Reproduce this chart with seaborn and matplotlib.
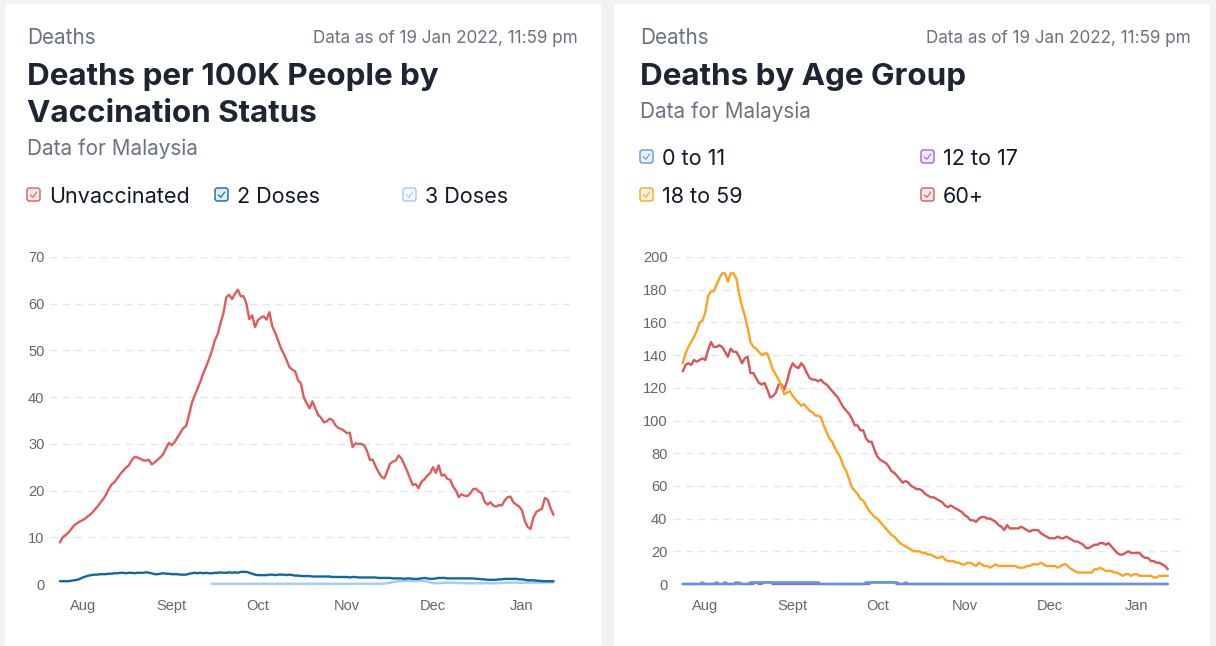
import numpy as np
import pandas as pd
import matplotlib.pyplot as plt
import seaborn as sns
from matplotlib.patches import Rectangle, FancyBboxPatch
from matplotlib.colors import to_rgba

sns.set_style("white")
plt.rcParams["font.family"] = ["Inter", "DejaVu Sans"]

W, H = 1216, 646

# ---- data (daily values, 24 Jul 2021 .. 12 Jan 2022) ----
START = "2021-07-24"
START_3DOSE = "2021-09-15"
MONTH_TICKS = ["2021-08-01", "2021-09-01", "2021-10-01", "2021-11-01", "2021-12-01", "2022-01-01"]
MONTH_LABELS = ["Aug", "Sept", "Oct", "Nov", "Dec", "Jan"]

# deaths per 100K by vaccination status
UNVACC = [
    8.9, 10.0, 10.5, 11.0, 11.8, 12.6, 13.0, 13.4, 13.7, 14.1,
    14.6, 15.1, 15.8, 16.5, 17.3, 18.1, 19.0, 20.3, 21.3, 21.8,
    22.6, 23.5, 24.2, 24.9, 25.4, 26.5, 27.2, 27.1, 26.8, 26.5,
    26.4, 26.6, 25.6, 26.0, 26.6, 27.1, 27.8, 29.1, 30.2, 29.7,
    30.4, 31.4, 32.4, 33.4, 33.8, 36.2, 38.8, 40.4, 41.9, 43.4,
    45.2, 46.6, 48.2, 50.0, 52.2, 53.5, 55.9, 58.0, 61.4, 61.9,
    61.0, 62.1, 63.0, 61.6, 61.6, 60.0, 56.7, 57.5, 55.0, 56.5,
    57.0, 57.3, 56.6, 58.2, 55.2, 53.8, 52.2, 50.5, 49.3, 47.9,
    46.4, 45.9, 45.5, 43.6, 42.9, 39.9, 38.7, 37.6, 39.1, 37.6,
    36.2, 35.6, 34.6, 34.8, 35.4, 35.1, 34.0, 33.4, 33.2, 32.8,
    32.3, 32.4, 29.3, 30.1, 30.0, 30.0, 29.7, 28.5, 26.6, 26.6,
    25.2, 24.0, 23.0, 22.6, 24.0, 25.7, 26.2, 26.4, 27.5, 26.9,
    25.6, 24.2, 22.6, 21.2, 21.4, 20.5, 21.9, 22.4, 23.2, 23.7,
    25.0, 23.8, 25.4, 23.2, 23.4, 22.5, 22.3, 20.9, 20.0, 18.6,
    19.2, 18.9, 18.8, 19.4, 20.3, 20.4, 19.8, 19.4, 17.6, 17.0,
    17.5, 16.8, 16.6, 16.9, 16.8, 17.9, 18.6, 18.7, 17.5, 17.0,
    16.6, 15.8, 13.5, 12.2, 11.8, 14.2, 15.4, 15.8, 16.1, 18.4,
    18.0, 16.2, 14.8,
]
TWO_DOSES = [
    0.6, 0.6, 0.6, 0.6, 0.7, 0.8, 0.9, 1.1, 1.4, 1.6,
    1.8, 1.9, 2.0, 2.0, 2.1, 2.1, 2.1, 2.2, 2.2, 2.3,
    2.3, 2.4, 2.4, 2.3, 2.4, 2.4, 2.3, 2.4, 2.4, 2.4,
    2.5, 2.4, 2.3, 2.1, 2.1, 2.2, 2.3, 2.2, 2.2, 2.1,
    2.1, 2.1, 2.0, 2.0, 2.0, 2.2, 2.3, 2.4, 2.3, 2.4,
    2.3, 2.4, 2.3, 2.3, 2.4, 2.4, 2.5, 2.4, 2.4, 2.5,
    2.4, 2.5, 2.4, 2.6, 2.6, 2.6, 2.4, 2.2, 2.0, 1.9,
    1.9, 1.9, 1.9, 2.0, 2.0, 1.9, 2.0, 2.0, 2.0, 1.9,
    2.0, 1.9, 1.8, 1.8, 1.7, 1.7, 1.7, 1.7, 1.6, 1.6,
    1.6, 1.6, 1.6, 1.6, 1.6, 1.5, 1.5, 1.5, 1.5, 1.5,
    1.5, 1.4, 1.5, 1.5, 1.4, 1.4, 1.4, 1.4, 1.4, 1.4,
    1.4, 1.3, 1.3, 1.3, 1.3, 1.3, 1.2, 1.2, 1.2, 1.2,
    1.1, 1.2, 1.2, 1.1, 1.1, 1.1, 1.2, 1.3, 1.2, 1.1,
    1.1, 1.2, 1.3, 1.3, 1.3, 1.2, 1.2, 1.2, 1.2, 1.2,
    1.2, 1.2, 1.2, 1.2, 1.2, 1.1, 1.1, 1.0, 1.0, 0.9,
    0.9, 0.9, 0.9, 1.0, 1.0, 1.1, 1.1, 1.1, 1.1, 1.1,
    1.0, 1.0, 0.9, 0.8, 0.8, 0.8, 0.7, 0.7, 0.6, 0.6,
    0.6, 0.6, 0.6,
]
THREE_DOSES = [  # starts 15 Sep 2021
    0.05, 0.05, 0.05, 0.05, 0.05, 0.05, 0.05, 0.05, 0.05, 0.05,
    0.05, 0.05, 0.05, 0.05, 0.05, 0.05, 0.05, 0.05, 0.05, 0.05,
    0.05, 0.05, 0.05, 0.05, 0.05, 0.05, 0.05, 0.05, 0.05, 0.05,
    0.05, 0.05, 0.05, 0.05, 0.05, 0.05, 0.05, 0.05, 0.05, 0.05,
    0.05, 0.05, 0.05, 0.05, 0.05, 0.05, 0.05, 0.05, 0.05, 0.05,
    0.05, 0.05, 0.05, 0.05, 0.05, 0.05, 0.05, 0.05, 0.05, 0.05,
    0.1, 0.15, 0.25, 0.4, 0.5, 0.6, 0.6, 0.65, 0.7, 0.7,
    0.65, 0.6, 0.7, 0.7, 0.6, 0.5, 0.35, 0.2, 0.15, 0.15,
    0.2, 0.25, 0.3, 0.3, 0.3, 0.25, 0.2, 0.2, 0.2, 0.15,
    0.15, 0.15, 0.15, 0.15, 0.15, 0.2, 0.2, 0.15, 0.15, 0.15,
    0.2, 0.2, 0.25, 0.3, 0.3, 0.3, 0.3, 0.25, 0.25, 0.3,
    0.3, 0.3, 0.3, 0.3, 0.3, 0.3, 0.35, 0.35, 0.35, 0.35,
]

# deaths by age group
AGE_60_PLUS = [
    130, 134, 135, 134, 137, 136, 137, 138, 137, 143,
    148, 145, 145, 146, 145, 142, 139, 144, 142, 142,
    139, 135, 138, 139, 129, 129, 126, 123, 122, 123,
    119, 114, 115, 117, 122, 122, 119, 124, 131, 135,
    133, 132, 135, 133, 129, 126, 125, 125, 124, 125,
    123, 122, 120, 118, 116, 114, 111, 108, 106, 104,
    101, 97, 97, 94, 94, 89, 87, 87, 82, 78,
    76, 75, 74, 72, 69, 68, 66, 64, 62, 63,
    62, 60, 59, 58, 58, 57, 55, 54, 53, 53,
    52, 51, 50, 48, 47, 48, 47, 46, 45, 44,
    42, 41, 39, 39, 38, 40, 41, 41, 40, 40,
    39, 38, 36, 35, 33, 36, 34, 34, 34, 34,
    35, 34, 33, 32, 33, 33, 33, 31, 30, 29,
    28, 28, 28, 29, 28, 28, 29, 28, 27, 26,
    26, 25, 24, 22, 22, 23, 24, 24, 25, 25,
    24, 25, 23, 21, 19, 18, 18, 19, 20, 19,
    19, 19, 19, 17, 16, 16, 14, 14, 13, 13,
    12, 11, 9,
]
AGE_18_59 = [
    135, 141, 145, 148, 151, 155, 160, 161, 166, 176,
    179, 179, 183, 187, 190, 190, 185, 190, 190, 187,
    177, 170, 164, 157, 148, 145, 144, 142, 140, 141,
    141, 136, 131, 128, 125, 121, 116, 117, 118, 115,
    113, 111, 109, 110, 108, 106, 105, 103, 103, 102,
    97, 93, 89, 87, 83, 80, 77, 72, 69, 64,
    59, 57, 55, 52, 51, 48, 45, 43, 41, 40,
    38, 36, 34, 32, 30, 29, 27, 25, 24, 23,
    22, 21, 20, 20, 20, 19, 19, 18, 18, 17,
    16, 16, 17, 15, 14, 14, 14, 13, 13, 12,
    12, 13, 13, 12, 11, 13, 12, 11, 11, 10,
    11, 12, 11, 11, 11, 11, 11, 11, 11, 10,
    10, 10, 11, 11, 12, 12, 12, 13, 12, 11,
    11, 11, 11, 10, 11, 12, 12, 10, 9, 8,
    7, 7, 7, 7, 7, 7, 9, 9, 10, 9,
    8, 8, 8, 7, 7, 6, 5, 6, 6, 5,
    6, 6, 5, 5, 5, 5, 5, 4, 4, 5,
    5, 5, 5,
]
AGE_12_17 = [
    0, 0, 0, 0, 0, 0, 0, 0, 0, 0,
    0, 0, 0, 0, 0, 1, 0, 0, 0, 1,
    0, 0, 0, 0, 0, 0, 1, 0, 0, 1,
    1, 1, 0, 0, 0, 0, 0, 0, 0, 0,
    0, 0, 0, 0, 0, 0, 0, 0, 0, 0,
    0, 0, 0, 0, 0, 0, 0, 0, 0, 0,
    0, 0, 0, 0, 0, 0, 0, 1, 1, 1,
    1, 1, 1, 1, 1, 1, 0, 0, 0, 0,
    0, 0, 0, 0, 0, 0, 0, 0, 0, 0,
    0, 0, 0, 0, 0, 0, 0, 0, 0, 0,
    0, 0, 0, 0, 0, 0, 0, 0, 0, 0,
    0, 0, 0, 0, 0, 0, 0, 0, 0, 0,
    0, 0, 0, 0, 0, 0, 0, 0, 0, 0,
    0, 0, 0, 0, 0, 0, 0, 0, 0, 0,
    0, 0, 0, 0, 0, 0, 0, 0, 0, 0,
    0, 0, 0, 0, 0, 0, 0, 0, 0, 0,
    0, 0, 0, 0, 0, 0, 0, 0, 0, 0,
    0, 0, 0,
]
AGE_0_11 = [
    0, 0, 0, 0, 0, 0, 0, 1, 0, 0,
    0, 0, 1, 0, 0, 0, 0, 0, 0, 0,
    1, 0, 0, 0, 1, 1, 1, 1, 1, 1,
    1, 1, 1, 1, 1, 1, 1, 1, 1, 1,
    1, 1, 1, 1, 1, 1, 1, 1, 1, 0,
    0, 0, 0, 0, 0, 0, 0, 0, 0, 0,
    0, 0, 0, 0, 0, 1, 1, 1, 1, 1,
    1, 1, 1, 1, 1, 1, 1, 0, 0, 1,
    0, 0, 0, 0, 0, 0, 0, 0, 0, 0,
    0, 0, 0, 0, 0, 0, 0, 0, 0, 0,
    0, 0, 0, 0, 0, 0, 0, 0, 0, 0,
    0, 0, 0, 0, 0, 0, 0, 0, 0, 0,
    0, 0, 0, 0, 0, 0, 0, 0, 0, 0,
    0, 0, 0, 0, 0, 0, 0, 0, 0, 0,
    0, 0, 0, 0, 0, 0, 0, 0, 0, 0,
    0, 0, 0, 0, 0, 0, 0, 0, 0, 0,
    0, 0, 0, 0, 0, 0, 0, 0, 0, 0,
    0, 0, 0,
]

# colours
RED = "#de5b5e"
DARK_BLUE = "#0d69a5"
LIGHT_BLUE = "#9fcbf5"
ORANGE = "#fca31f"
RED_60 = "#d9555a"
PURPLE = "#a55ee6"
BLUE_011 = "#5d97e3"
TITLE_C = "#1e2532"
GREY_C = "#6b7280"
TICK_C = "#666666"


def long_df(series, start):
    rows = []
    for name, vals in series.items():
        st = start[name]
        d = pd.date_range(st, periods=len(vals), freq="D")
        rows.append(pd.DataFrame({"date": d, "value": vals, "series": name}))
    return pd.concat(rows, ignore_index=True)


df_vax = long_df(
    {"3 Doses": THREE_DOSES, "2 Doses": TWO_DOSES, "Unvaccinated": UNVACC},
    {"3 Doses": START_3DOSE, "2 Doses": START, "Unvaccinated": START},
)
df_age = long_df(
    {"60+": AGE_60_PLUS, "18 to 59": AGE_18_59, "12 to 17": AGE_12_17, "0 to 11": AGE_0_11},
    {"60+": START, "18 to 59": START, "12 to 17": START, "0 to 11": START},
)

fig = plt.figure(figsize=(W / 100, H / 100), dpi=100)
fig.patch.set_facecolor("#f1f2f4")

# decoration layer in pixel coords (y down)
deco = fig.add_axes([0, 0, 1, 1], zorder=0)
deco.set_xlim(0, W)
deco.set_ylim(H, 0)
deco.axis("off")
deco.add_patch(Rectangle((5, 4), 596, 650, fc="white", ec="none"))
deco.add_patch(Rectangle((614, 4), 596, 650, fc="white", ec="none"))


def checkbox(x, y, color):
    deco.add_patch(FancyBboxPatch((x, y), 13, 13, boxstyle="round,pad=0,rounding_size=2.5",
                                  fc=to_rgba(color, 0.12), ec=color, lw=1.0))
    deco.plot([x + 3.3, x + 5.8, x + 9.8], [y + 6.8, y + 9.3, y + 4.0], color=color, lw=0.8,
              solid_capstyle="round")


def header(x0, x_right, title_lines, title_base):
    deco.text(x0, 44, "Deaths", fontsize=14.9, color=GREY_C, va="baseline")
    deco.text(x_right, 43, "Data as of 19 Jan 2022, 11:59 pm", fontsize=12.3, color=GREY_C,
              va="baseline", ha="right")
    y = title_base
    for line in title_lines:
        deco.text(x0, y, line, fontsize=22.6, fontweight="bold", color=TITLE_C, va="baseline")
        y += 37
    deco.text(x0, y - 37 + 33, "Data for Malaysia", fontsize=14.9, color=GREY_C, va="baseline")


header(27, 578, ["Deaths per 100K People by", "Vaccination Status"], 85)
header(640, 1191, ["Deaths by Age Group"], 85)

for x, lab, col in [(27, "Unvaccinated", RED), (215, "2 Doses", DARK_BLUE), (403, "3 Doses", LIGHT_BLUE)]:
    checkbox(x, 188, col)
    deco.text(x + 22, 203, lab, fontsize=15.5, color="#111827", va="baseline")
for x, y, lab, col in [(640, 150, "0 to 11", BLUE_011), (921, 150, "12 to 17", PURPLE),
                       (640, 188, "18 to 59", ORANGE), (921, 188, "60+", RED_60)]:
    checkbox(x, y, col)
    deco.text(x + 22, y + 15, lab, fontsize=15.5, color="#111827", va="baseline")

# chart axes
x_lo = pd.Timestamp(START) - pd.Timedelta(days=3.45)
x_hi = pd.Timestamp(START) + pd.Timedelta(days=178.8)


def make_ax(left_px, right_px, top_px, bottom_px):
    return fig.add_axes([left_px / W, 1 - bottom_px / H, (right_px - left_px) / W,
                         (bottom_px - top_px) / H], zorder=1, facecolor="none")


ax1 = make_ax(50, 573, 257, 584)
ax2 = make_ax(673, 1187, 257, 584)

sns.lineplot(data=df_vax, x="date", y="value", hue="series",
             hue_order=["3 Doses", "2 Doses", "Unvaccinated"],
             palette={"Unvaccinated": RED, "2 Doses": DARK_BLUE, "3 Doses": LIGHT_BLUE},
             estimator=None, linewidth=1.7, legend=False, ax=ax1)
sns.lineplot(data=df_age, x="date", y="value", hue="series",
             hue_order=["60+", "18 to 59", "12 to 17", "0 to 11"],
             palette={"60+": RED_60, "18 to 59": ORANGE, "12 to 17": PURPLE, "0 to 11": BLUE_011},
             estimator=None, linewidth=1.7, legend=False, ax=ax2)

for ax, ymax, step in [(ax1, 70, 10), (ax2, 200, 20)]:
    ax.set_ylim(0, ymax)
    ax.set_xlim(x_lo, x_hi)
    ax.set_yticks(np.arange(0, ymax + 1, step))
    ax.set_xticks(pd.to_datetime(MONTH_TICKS))
    ax.set_xticklabels(MONTH_LABELS)
    ax.set_xlabel("")
    ax.set_ylabel("")
    for s in ax.spines.values():
        s.set_visible(False)
    ax.yaxis.grid(True, color="#e4e6ea", linestyle=(0, (5, 4)), linewidth=1)
    ax.xaxis.grid(False)
    ax.set_axisbelow(True)
    ax.tick_params(axis="both", length=0, colors=TICK_C, labelsize=10.5)
    ax.tick_params(axis="y", pad=4)
    ax.tick_params(axis="x", pad=11)
    for lab in ax.get_xticklabels() + ax.get_yticklabels():
        lab.set_fontfamily(["Liberation Sans", "DejaVu Sans"])
    for ln in ax.lines:
        ln.set_clip_on(False)
        ln.set_solid_joinstyle("round")

fig.savefig("out.png", dpi=100, facecolor=fig.get_facecolor())
